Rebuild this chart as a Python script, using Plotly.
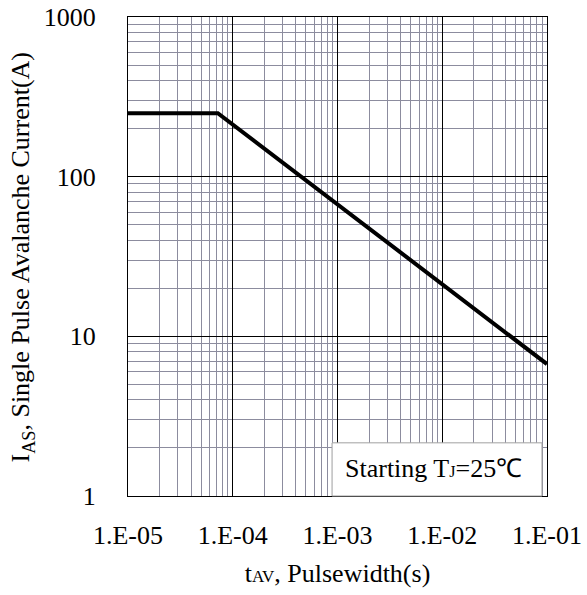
import plotly.graph_objects as go

# Data
pulse_width_s = [1e-5, 7.2e-5, 1e-1]
avalanche_current_a = [250, 250, 6.7]

x_tick_vals = [1e-5, 1e-4, 1e-3, 1e-2, 1e-1]
x_tick_text = ["1.E-05", "1.E-04", "1.E-03", "1.E-02", "1.E-01"]
y_tick_vals = [1, 10, 100, 1000]
y_tick_text = ["1", "10", "100", "1000"]

x_minor = [k * 10.0 ** e for e in range(-5, -1) for k in range(2, 10)]
y_minor = [k * 10.0 ** e for e in range(0, 3) for k in range(2, 10)]

FONT = "Liberation Serif"
MINOR_GRID = "#8c8c9e"

fig = go.Figure()
fig.add_trace(go.Scatter(
    x=pulse_width_s, y=avalanche_current_a, mode="lines",
    line=dict(color="black", width=4), showlegend=False,
))

fig.update_layout(
    width=587, height=595,
    margin=dict(l=128, r=40, t=17, b=99),
    paper_bgcolor="white", plot_bgcolor="white",
    font=dict(family=FONT, size=26, color="black"),
    xaxis=dict(
        type="log", range=[-5, -1], automargin=False,
        tickvals=x_tick_vals, ticktext=x_tick_text,
        showgrid=True, gridcolor="black", gridwidth=1.3,
        showline=True, linecolor="black", linewidth=1.3, mirror=True,
        ticks="", ticklabelstandoff=16,
        minor=dict(tickvals=x_minor, showgrid=True, gridcolor=MINOR_GRID, gridwidth=1),
        title=dict(text="t<span style='font-size:17px'>AV</span>, Pulsewidth(s)",
                   font=dict(family=FONT, size=26), standoff=14),
        zeroline=False,
    ),
    yaxis=dict(
        type="log", range=[0, 3], automargin=False,
        tickvals=y_tick_vals, ticktext=y_tick_text,
        showgrid=True, gridcolor="black", gridwidth=1.3,
        showline=True, linecolor="black", linewidth=1.3, mirror=True,
        ticks="", ticklabelstandoff=26,
        minor=dict(tickvals=y_minor, showgrid=True, gridcolor=MINOR_GRID, gridwidth=1),
        zeroline=False,
    ),
    shapes=[dict(
        type="rect", xref="paper", yref="paper",
        x0=0.487, x1=0.988, y0=0.0, y1=0.111,
        fillcolor="white", line=dict(color="#a0a0a0", width=1), layer="above",
    )],
    annotations=[
        dict(
            xref="paper", yref="paper", x=0.513, y=0.058,
            xanchor="left", yanchor="middle", showarrow=False,
            text="Starting T<span style='font-size:16px'>J</span>=25℃",
            font=dict(family=FONT, size=26, color="black"),
        ),
        dict(
            xref="paper", yref="paper", x=-0.253, y=0.5,
            xanchor="center", yanchor="middle", showarrow=False, textangle=-90,
            text="I<sub>AS</sub>, Single Pulse Avalanche Current(A)",
            font=dict(family=FONT, size=26, color="black"),
        ),
    ],
)

fig.write_html(
    "out.html",
    config={"displayModeBar": False},
    post_script="document.body.style.margin='0px';document.body.style.overflow='hidden';",
)
